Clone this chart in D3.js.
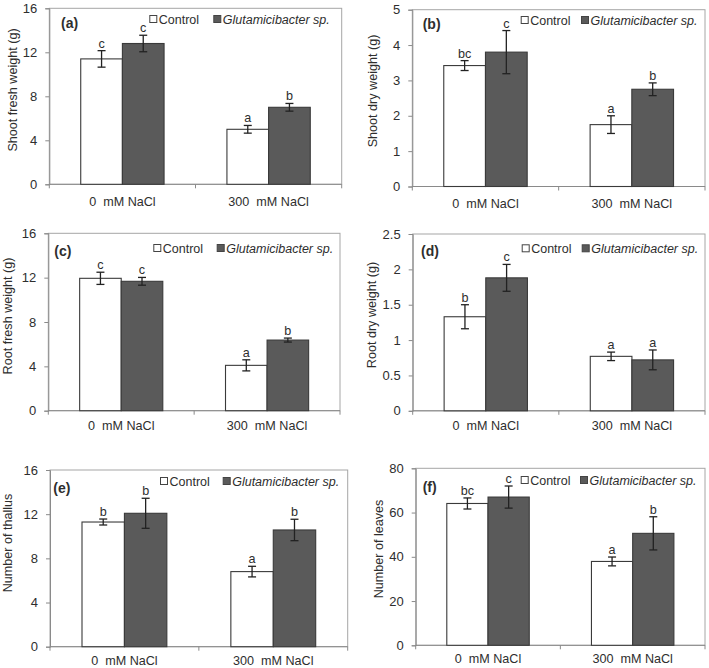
<!DOCTYPE html>
<html><head><meta charset="utf-8">
<script src="https://cdn.jsdelivr.net/npm/d3@7"></script>
<style>
html,body{margin:0;padding:0;background:#fff;}
text{font-family:Arial,"Liberation Sans",sans-serif;fill:#2e2e2e;white-space:pre;}
</style></head>
<body>
<svg id="chart" width="709" height="668"></svg>
<script>
// ---------- DATA ----------
const categories = ["0  mM NaCl", "300  mM NaCl"];
const seriesNames = ["Control", "Glutamicibacter sp."];

// [category][series]  (series: Control, Glutamicibacter sp.)
const shootFreshMean = [[11.4, 12.8], [5.0, 7.0]];
const shootFreshErr = [[0.75, 0.75], [0.35, 0.35]];
const shootFreshLetters = [["c", "c"], ["a", "b"]];

const shootDryMean = [[3.42, 3.80], [1.75, 2.75]];
const shootDryErr = [[0.14, 0.61], [0.25, 0.18]];
const shootDryLetters = [["bc", "c"], ["a", "b"]];

const rootFreshMean = [[11.94, 11.67], [4.09, 6.37]];
const rootFreshErr = [[0.55, 0.35], [0.50, 0.18]];
const rootFreshLetters = [["c", "c"], ["a", "b"]];

const rootDryMean = [[1.33, 1.88], [0.77, 0.72]];
const rootDryErr = [[0.17, 0.19], [0.06, 0.14]];
const rootDryLetters = [["b", "c"], ["a", "a"]];

const thallusMean = [[11.29, 12.08], [6.8, 10.57]];
const thallusErr = [[0.27, 1.36], [0.48, 0.97]];
const thallusLetters = [["b", "b"], ["a", "b"]];

const leavesMean = [[64.1, 67.0], [37.9, 50.6]];
const leavesErr = [[2.5, 5.0], [2.0, 7.5]];
const leavesLetters = [["bc", "c"], ["a", "b"]];

const ticksFresh = [0, 4, 8, 12, 16];
const ticksShootDry = [0, 1, 2, 3, 4, 5];
const ticksRootDry = [0, 0.5, 1, 1.5, 2, 2.5];
const ticksThallus = [0, 4, 8, 12, 16];
const ticksLeaves = [0, 20, 40, 60, 80];

const yTitles = ["Shoot fresh weight (g)", "Shoot dry weight (g)", "Root fresh weight (g)",
                 "Root dry weight (g)", "Number of thallus", "Number of leaves"];
const panelLabels = ["(a)", "(b)", "(c)", "(d)", "(e)", "(f)"];

// ---------- LAYOUT ----------
const panels = [
  {mean: shootFreshMean, err: shootFreshErr, letters: shootFreshLetters, ticks: ticksFresh,
   L: 49.3, R: 341.7, T: 8.3, B: 184.3, tX: 13.3, tY: 90, legC: 149.3, legT: 213.3, legB: 24, labX: 61, labB: 28, xOff: 21.5},
  {mean: shootDryMean, err: shootDryErr, letters: shootDryLetters, ticks: ticksShootDry,
   L: 412.3, R: 705, T: 9.7, B: 186.5, tX: 373, tY: 91, legC: 520.7, legT: 581, legB: 25, labX: 422.7, labB: 29, xOff: 21.5},
  {mean: rootFreshMean, err: rootFreshErr, letters: rootFreshLetters, ticks: ticksFresh,
   L: 48.3, R: 340, T: 233.3, B: 410.7, tX: 8.3, tY: 316, legC: 153.3, legT: 216.7, legB: 253, labX: 54.3, labB: 256, xOff: 19.5},
  {mean: rootDryMean, err: rootDryErr, letters: rootDryLetters, ticks: ticksRootDry,
   L: 412.7, R: 705, T: 234, B: 410.8, tX: 371.7, tY: 315, legC: 521.7, legT: 581.7, legB: 253.3, labX: 421, labB: 256, xOff: 19.5},
  {mean: thallusMean, err: thallusErr, letters: thallusLetters, ticks: ticksThallus,
   L: 50, R: 347.7, T: 470, B: 646.7, tX: 8.3, tY: 543, legC: 160, legT: 222.7, legB: 486, labX: 53.3, labB: 493, xOff: 18},
  {mean: leavesMean, err: leavesErr, letters: leavesLetters, ticks: ticksLeaves,
   L: 415.7, R: 705, T: 468.3, B: 645.3, tX: 378.7, tY: 549, legC: 520.7, legT: 580, legB: 485, labX: 422.7, labB: 492, xOff: 18}
];

const fills = ["#ffffff", "#5a5a5a"];
const barStroke = "#3a3a3a";
const axisColor = "#8a8a8a";
const svg = d3.select("#chart");

panels.forEach((p, i) => {
  const g = svg.append("g");
  const y = d3.scaleLinear().domain([0, d3.max(p.ticks)]).range([p.B, p.T]);
  const x0 = d3.scaleBand().domain(categories).range([p.L, p.R]).paddingInner(0.43).paddingOuter(0.215);
  const x1 = d3.scaleBand().domain(seriesNames).range([0, x0.bandwidth()]).padding(0);

  // frame (top/right)
  g.append("rect").attr("x", p.L).attr("y", p.T).attr("width", p.R - p.L).attr("height", p.B - p.T)
    .attr("fill", "none").attr("stroke", "#a6a6a6").attr("stroke-width", 1);

  // y axis
  const yAxis = d3.axisLeft(y).tickValues(p.ticks).tickSize(4).tickPadding(8).tickFormat(d => String(d));
  const ya = g.append("g").attr("transform", `translate(${p.L},0)`).call(yAxis);
  ya.select(".domain").attr("stroke", axisColor);
  ya.selectAll(".tick line").attr("stroke", axisColor);
  ya.selectAll(".tick text").style("font-size", "13px").attr("fill", "#2e2e2e")
    .style("font-family", "Arial, 'Liberation Sans', sans-serif");

  // x axis line and boundary ticks
  g.append("line").attr("x1", p.L).attr("x2", p.R).attr("y1", p.B).attr("y2", p.B)
    .attr("stroke", axisColor).attr("stroke-width", 1);
  const bounds = [p.L, (x0(categories[0]) + x0.bandwidth() + x0(categories[1])) / 2, p.R];
  g.selectAll(".xt").data(bounds).join("line")
    .attr("x1", d => d).attr("x2", d => d).attr("y1", p.B).attr("y2", p.B + 4)
    .attr("stroke", axisColor);
  g.selectAll(".xl").data(categories).join("text")
    .attr("x", d => x0(d) + x0.bandwidth() / 2).attr("y", p.B + p.xOff)
    .attr("xml:space", "preserve")
    .attr("text-anchor", "middle").style("font-size", "12.6px").text(d => d);

  // bars
  const flat = [];
  categories.forEach((c, ci) => seriesNames.forEach((s, si) => {
    flat.push({c, s, si, v: p.mean[ci][si], e: p.err[ci][si], l: p.letters[ci][si]});
  }));
  g.selectAll(".bar").data(flat).join("rect")
    .attr("x", d => x0(d.c) + x1(d.s)).attr("width", x1.bandwidth())
    .attr("y", d => y(d.v)).attr("height", d => y(0) - y(d.v))
    .attr("fill", d => fills[d.si]).attr("stroke", barStroke).attr("stroke-width", 1.1);

  // error bars
  const cap = 4;
  const eg = g.selectAll(".err").data(flat).join("g");
  eg.append("line").attr("x1", d => x0(d.c) + x1(d.s) + x1.bandwidth() / 2)
    .attr("x2", d => x0(d.c) + x1(d.s) + x1.bandwidth() / 2)
    .attr("y1", d => y(d.v + d.e)).attr("y2", d => y(d.v - d.e));
  eg.append("line").attr("x1", d => x0(d.c) + x1(d.s) + x1.bandwidth() / 2 - cap)
    .attr("x2", d => x0(d.c) + x1(d.s) + x1.bandwidth() / 2 + cap)
    .attr("y1", d => y(d.v + d.e)).attr("y2", d => y(d.v + d.e));
  eg.append("line").attr("x1", d => x0(d.c) + x1(d.s) + x1.bandwidth() / 2 - cap)
    .attr("x2", d => x0(d.c) + x1(d.s) + x1.bandwidth() / 2 + cap)
    .attr("y1", d => y(d.v - d.e)).attr("y2", d => y(d.v - d.e));
  eg.selectAll("line").attr("stroke", "#222").attr("stroke-width", 1.3);

  // letters
  g.selectAll(".let").data(flat).join("text")
    .attr("x", d => x0(d.c) + x1(d.s) + x1.bandwidth() / 2)
    .attr("y", d => y(d.v + d.e) - 3)
    .attr("text-anchor", "middle").style("font-size", "12.6px").text(d => d.l);

  // y title
  g.append("text").attr("transform", `translate(${p.tX},${p.tY}) rotate(-90)`)
    .attr("text-anchor", "middle").attr("dominant-baseline", "central")
    .style("font-size", "12.6px").text(yTitles[i]);

  // panel label
  g.append("text").attr("x", p.labX).attr("y", p.labB).style("font-size", "14px")
    .style("font-weight", "bold").text(panelLabels[i]);

  // legend
  const legX = [p.legC, p.legT];
  seriesNames.forEach((s, si) => {
    g.append("rect").attr("x", legX[si] + 0.5).attr("y", p.legB - 8.5).attr("width", 7).attr("height", 7)
      .attr("fill", fills[si]).attr("stroke", "#444").attr("stroke-width", 1);
    g.append("text").attr("x", legX[si] + 9.5).attr("y", p.legB).style("font-size", "12.5px")
      .style("font-style", si === 1 ? "italic" : "normal").text(s);
  });
});
</script>
</body></html>
